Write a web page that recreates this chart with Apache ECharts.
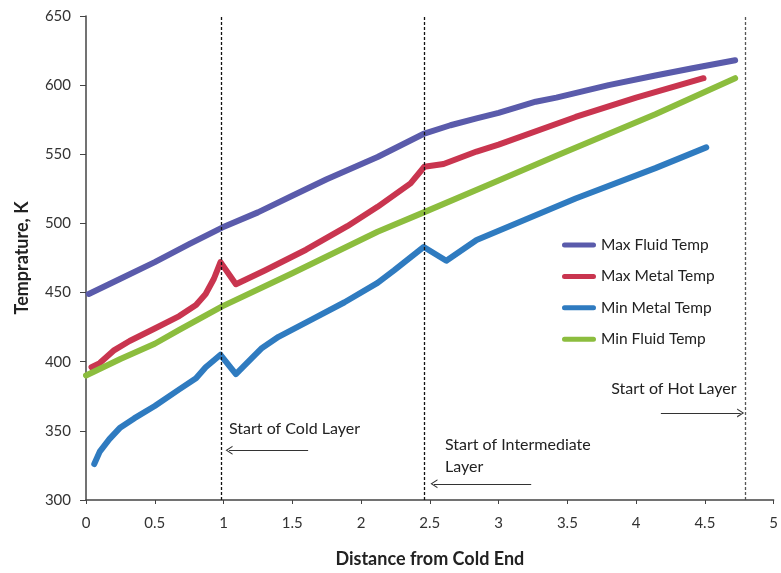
<!DOCTYPE html>
<html>
<head>
<meta charset="utf-8">
<script src="https://cdn.jsdelivr.net/npm/echarts@6/dist/echarts.min.js"></script>
<style>
  html, body { margin: 0; padding: 0; background: #fff; }
  #chart { width: 781px; height: 573px; }
</style>
</head>
<body>
<div id="chart"></div>
<script>
// Temperature profiles along the heat exchanger: [distance from cold end, temperature K]
const seriesNames = ['Max Fluid Temp', 'Max Metal Temp', 'Min Metal Temp', 'Min Fluid Temp'];

const maxFluidTemp = [
  [0.02, 449], [0.25, 460], [0.5, 472], [0.75, 485], [0.99, 497], [1.25, 508],
  [1.5, 520], [1.75, 532], [2.12, 548], [2.46, 565], [2.65, 571], [2.84, 576],
  [3.0, 580], [3.27, 588], [3.42, 591], [3.8, 600], [4.14, 607], [4.4, 612], [4.72, 618]
];

const maxMetalTemp = [
  [0.04, 396], [0.1, 399], [0.2, 408], [0.317, 415], [0.5, 424], [0.678, 433],
  [0.8, 441], [0.87, 449], [0.93, 460], [0.978, 472], [1.09, 456], [1.3, 466],
  [1.6, 481], [1.9, 498], [2.12, 512], [2.36, 529], [2.46, 541], [2.6, 543],
  [2.84, 552], [3.0, 557], [3.56, 577], [4.0, 591], [4.49, 605]
];

const minMetalTemp = [
  [0.06, 326], [0.1, 335], [0.17, 344], [0.245, 352], [0.35, 359], [0.5, 368],
  [0.678, 380], [0.8, 388], [0.87, 396], [0.978, 405], [1.09, 391], [1.2, 402],
  [1.28, 410], [1.4, 418], [1.65, 431], [1.88, 443], [2.12, 457], [2.24, 466],
  [2.456, 483], [2.62, 473], [2.84, 488], [3.2, 503], [3.56, 518], [4.14, 540], [4.51, 555]
];

const minFluidTemp = [
  [0.0, 390], [0.25, 402], [0.5, 413], [0.678, 423], [0.99, 440], [1.5, 464],
  [2.12, 494], [2.456, 508], [3.0, 531], [3.42, 549], [4.14, 579], [4.72, 605]
];

// Positions where each layer starts
const layerStarts = [0.985, 2.46, 4.79];

const xTicks = { min: 0, max: 5, interval: 0.5 };
const yTicks = { min: 300, max: 650, interval: 50 };

const colors = ['#5a5bab', '#c9354f', '#2f7bc0', '#8cbd3e'];
const font = 'Lato, "Open Sans", sans-serif';

// open chevron arrow head, tip pointing along the line
const chevron = 'path://M0,10 L5,0 L10,10 L8.6,10 L5,2.6 L1.4,10 Z';
// legend swatch: a thick bar centred in a 34x18 box (corner specks fix the box size)
const legendBar = 'path://M0,0 L0.01,0 L0,0.01 Z M34,18 L33.99,18 L34,17.99 Z ' +
  'M2.5,6.5 L31.5,6.5 A2.5,2.5 0 0 1 31.5,11.5 L2.5,11.5 A2.5,2.5 0 0 1 2.5,6.5 Z';

const chart = echarts.init(document.getElementById('chart'));

const lineSeries = [maxFluidTemp, maxMetalTemp, minMetalTemp, minFluidTemp].map((d, i) => ({
  name: seriesNames[i],
  type: 'line',
  data: d,
  symbol: 'none',
  smooth: false,
  z: 3,
  lineStyle: { width: 6, color: colors[i], cap: 'round', join: 'round' },
  itemStyle: { color: colors[i] }
}));

const annotationLabel = {
  show: true,
  color: '#222',
  fontFamily: font,
  fontSize: 16,
  distance: 0
};

const annotations = {
  name: 'layers',
  type: 'line',
  data: [],
  z: 4,
  silent: true,
  markLine: {
    silent: true,
    animation: false,
    symbol: ['none', 'none'],
    label: { show: false },
    data: [
      ...layerStarts.map((x, i) => ({
        xAxis: x,
        lineStyle: { color: i === 2 ? '#555' : '#111', type: [3, 2], width: 1.3 }
      })),
      [
        { coord: [1.615, 336], symbol: 'none' },
        { coord: [1.04, 336], symbol: chevron, symbolSize: [9, 7] }
      ],
      [
        { coord: [3.237, 311.7], symbol: 'none' },
        { coord: [2.53, 311.7], symbol: chevron, symbolSize: [9, 7] }
      ],
      [
        { coord: [4.18, 363], symbol: 'none' },
        { coord: [4.76, 363], symbol: chevron, symbolSize: [9, 7] }
      ]
    ],
    lineStyle: { color: '#333', type: 'solid', width: 1.2 }
  },
  markPoint: {
    silent: true,
    animation: false,
    symbol: 'circle',
    symbolSize: 0,
    data: [
      { coord: [1.04, 351.5], label: { ...annotationLabel, position: 'right', formatter: 'Start of Cold Layer' } },
      { coord: [2.61, 331.7], label: { ...annotationLabel, position: 'right', lineHeight: 22, formatter: 'Start of Intermediate\nLayer' } },
      { coord: [4.73, 380.5], label: { ...annotationLabel, position: 'left', formatter: 'Start of Hot Layer' } }
    ]
  }
};

chart.setOption({
  animation: false,
  backgroundColor: '#ffffff',
  grid: { left: 86, right: 2, top: 16, bottom: 68 },
  legend: {
    data: seriesNames.map(n => ({ name: n, icon: legendBar })),
    orient: 'vertical',
    left: 557,
    top: 231,
    itemWidth: 34,
    itemHeight: 18,
    itemGap: 13.4,
    symbolKeepAspect: false,
    textStyle: { fontFamily: font, fontSize: 15.5, color: '#222' }
  },
  xAxis: {
    type: 'value',
    min: xTicks.min,
    max: xTicks.max,
    interval: xTicks.interval,
    name: 'Distance from Cold End',
    nameLocation: 'middle',
    nameGap: 50,
    nameTextStyle: { fontFamily: font, fontSize: 18, fontWeight: 'bold', color: '#222' },
    axisLine: { lineStyle: { color: '#444', width: 1.5 } },
    axisTick: { show: true, length: 4, lineStyle: { color: '#444' } },
    axisLabel: { fontFamily: font, fontSize: 15, color: '#333', margin: 16 },
    splitLine: { show: false }
  },
  yAxis: {
    type: 'value',
    min: yTicks.min,
    max: yTicks.max,
    interval: yTicks.interval,
    name: 'Temprature, K',
    nameLocation: 'middle',
    nameGap: 55,
    nameTextStyle: { fontFamily: font, fontSize: 18, fontWeight: 'bold', color: '#222' },
    axisLine: { show: true, lineStyle: { color: '#444', width: 1.5 } },
    axisTick: { show: true, length: 6, lineStyle: { color: '#444' } },
    axisLabel: { fontFamily: font, fontSize: 15, color: '#333', margin: 15 },
    splitLine: { show: false }
  },
  series: [...lineSeries, annotations]
});
</script>
</body>
</html>
